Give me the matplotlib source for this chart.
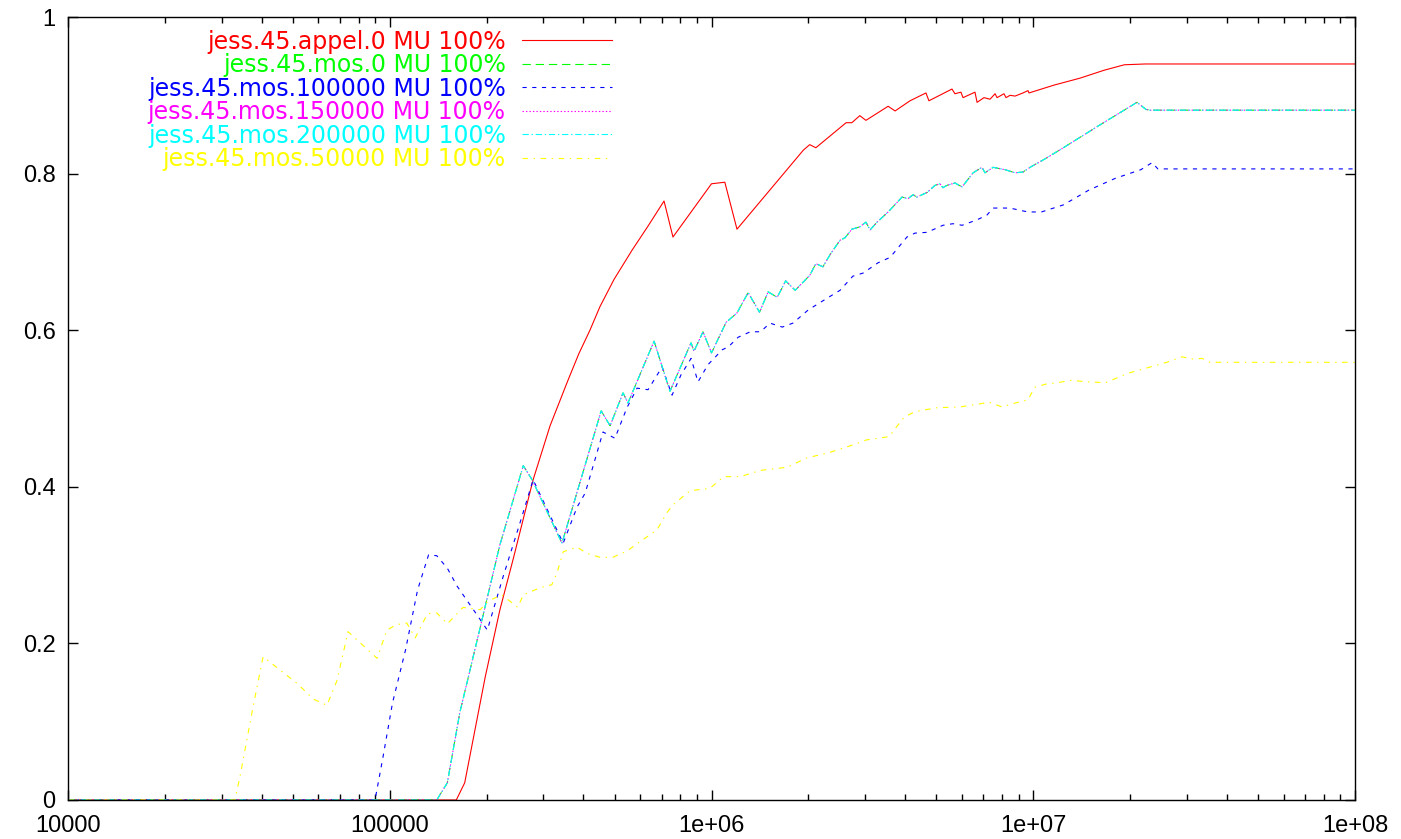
import matplotlib
matplotlib.use('Agg')
import matplotlib.pyplot as plt

plt.rcParams['font.family'] = ['Liberation Sans', 'DejaVu Sans']
plt.rcParams['lines.scale_dashes'] = False

# jess.45.appel.0
appel_x = [1e4, 1.61e5, 1.71e5, 1.98e5, 2.20e5, 2.42e5, 2.79e5, 3.15e5, 3.58e5, 3.87e5,
           4.19e5, 4.50e5, 4.98e5, 5.66e5, 6.35e5, 7.12e5, 7.59e5, 1.00e6, 1.10e6, 1.20e6,
           1.93e6, 2.02e6, 2.11e6, 2.62e6, 2.73e6, 2.89e6, 3.02e6, 3.54e6, 3.72e6, 4.14e6,
           4.64e6, 4.74e6, 5.59e6, 5.71e6, 5.96e6, 6.05e6, 6.59e6, 6.69e6, 7.03e6, 7.34e6,
           7.61e6, 7.72e6, 8.11e6, 8.23e6, 8.47e6, 8.78e6, 9.29e6, 9.63e6, 9.70e6, 1.16e7,
           1.40e7, 1.66e7, 1.92e7, 2.23e7, 1e8]
appel_y = [0, 0, 0.022, 0.157, 0.243, 0.308, 0.409, 0.478, 0.536, 0.570,
           0.600, 0.630, 0.665, 0.702, 0.733, 0.765, 0.719, 0.787, 0.789, 0.729,
           0.830, 0.837, 0.833, 0.865, 0.865, 0.874, 0.868, 0.886, 0.880, 0.893,
           0.903, 0.893, 0.908, 0.902, 0.904, 0.897, 0.904, 0.891, 0.897, 0.895,
           0.902, 0.897, 0.902, 0.897, 0.900, 0.899, 0.903, 0.906, 0.903, 0.913,
           0.922, 0.932, 0.939, 0.940, 0.940]

# jess.45.mos.0 / .150000 / .200000 (curves coincide)
mos_x = [1e4, 1.40e5, 1.51e5, 1.65e5, 2.20e5, 2.60e5, 2.77e5, 3.43e5, 4.54e5, 4.84e5,
         5.31e5, 5.50e5, 6.63e5, 7.43e5, 8.64e5, 8.82e5, 9.41e5, 1.00e6, 1.11e6, 1.20e6,
         1.30e6, 1.41e6, 1.50e6, 1.60e6, 1.70e6, 1.82e6, 2.02e6, 2.11e6, 2.22e6, 2.34e6,
         2.51e6, 2.60e6, 2.73e6, 2.89e6, 3.02e6, 3.11e6, 3.27e6, 3.54e6, 3.91e6, 4.08e6,
         4.23e6, 4.35e6, 4.68e6, 4.95e6, 5.13e6, 5.24e6, 5.39e6, 5.71e6, 6.01e6, 6.50e6,
         6.93e6, 7.08e6, 7.50e6, 8.17e6, 8.78e6, 9.29e6, 9.77e6, 1.09e7, 1.24e7, 1.58e7,
         2.10e7, 2.24e7, 2.31e7, 1e8]
mos_y = [0, 0, 0.022, 0.111, 0.326, 0.427, 0.409, 0.328, 0.497, 0.478,
         0.520, 0.507, 0.586, 0.522, 0.584, 0.573, 0.598, 0.571, 0.610, 0.622,
         0.648, 0.623, 0.649, 0.642, 0.663, 0.651, 0.670, 0.685, 0.681, 0.697,
         0.715, 0.718, 0.729, 0.732, 0.738, 0.728, 0.738, 0.751, 0.770, 0.768,
         0.773, 0.770, 0.776, 0.785, 0.787, 0.782, 0.785, 0.788, 0.783, 0.801,
         0.808, 0.801, 0.808, 0.805, 0.801, 0.802, 0.808, 0.819, 0.833, 0.860,
         0.891, 0.882, 0.881, 0.881]

# jess.45.mos.100000
mos100k_x = [1e4, 9.00e4, 9.53e4, 1.02e5, 1.12e5, 1.22e5, 1.32e5, 1.40e5, 1.51e5, 1.62e5,
             1.87e5, 2.01e5, 2.25e5, 2.54e5, 2.79e5, 3.46e5, 3.82e5, 4.05e5, 4.41e5, 4.60e5,
             5.01e5, 5.46e5, 5.87e5, 6.35e5, 7.02e5, 7.54e5, 8.04e5, 8.64e5, 9.08e5, 9.75e5,
             1.08e6, 1.13e6, 1.21e6, 1.32e6, 1.42e6, 1.52e6, 1.66e6, 1.79e6, 2.00e6, 2.29e6,
             2.51e6, 2.75e6, 2.96e6, 3.29e6, 3.59e6, 4.05e6, 4.29e6, 4.68e6, 5.24e6, 5.63e6,
             6.01e6, 6.69e6, 7.18e6, 7.50e6, 8.47e6, 8.90e6, 9.63e6, 1.06e7, 1.24e7, 1.49e7,
             1.80e7, 2.16e7, 2.34e7, 2.44e7, 1e8]
mos100k_y = [0, 0, 0.055, 0.124, 0.192, 0.268, 0.313, 0.312, 0.296, 0.273,
             0.236, 0.217, 0.285, 0.354, 0.409, 0.328, 0.374, 0.392, 0.444, 0.470,
             0.462, 0.501, 0.526, 0.524, 0.553, 0.517, 0.543, 0.564, 0.534, 0.556,
             0.575, 0.579, 0.591, 0.598, 0.598, 0.609, 0.604, 0.609, 0.626, 0.641,
             0.651, 0.669, 0.673, 0.686, 0.693, 0.719, 0.724, 0.725, 0.734, 0.736,
             0.734, 0.741, 0.747, 0.756, 0.756, 0.754, 0.751, 0.751, 0.760, 0.779,
             0.794, 0.805, 0.814, 0.806, 0.806]

# jess.45.mos.50000
mos50k_x = [1e4, 3.30e4, 3.42e4, 3.76e4, 4.04e4, 4.56e4, 5.15e4, 5.78e4, 6.38e4, 6.86e4,
            7.42e4, 8.08e4, 9.13e4, 9.80e4, 1.05e5, 1.13e5, 1.20e5, 1.31e5, 1.40e5, 1.51e5,
            1.69e5, 1.91e5, 2.02e5, 2.23e5, 2.50e5, 2.60e5, 2.93e5, 3.19e5, 3.31e5, 3.46e5,
            3.82e5, 4.10e5, 4.50e5, 4.94e5, 5.46e5, 6.00e5, 6.77e5, 7.27e5, 7.59e5, 8.58e5,
            9.41e5, 9.89e5, 1.09e6, 1.23e6, 1.42e6, 1.72e6, 1.98e6, 2.29e6, 2.64e6, 3.04e6,
            3.56e6, 3.97e6, 4.29e6, 5.02e6, 5.92e6, 6.83e6, 7.29e6, 8.00e6, 8.78e6, 9.63e6,
            1.01e7, 1.09e7, 1.19e7, 1.31e7, 1.47e7, 1.68e7, 1.97e7, 2.31e7, 2.60e7, 2.90e7,
            3.14e7, 3.35e7, 3.54e7, 1e8]
mos50k_y = [0, 0, 0.029, 0.119, 0.183, 0.166, 0.149, 0.129, 0.121, 0.153,
            0.215, 0.201, 0.181, 0.217, 0.224, 0.226, 0.207, 0.238, 0.239, 0.225,
            0.246, 0.243, 0.254, 0.262, 0.246, 0.262, 0.271, 0.275, 0.290, 0.317,
            0.323, 0.315, 0.310, 0.310, 0.318, 0.330, 0.345, 0.367, 0.377, 0.395,
            0.397, 0.398, 0.413, 0.413, 0.421, 0.425, 0.437, 0.443, 0.451, 0.460,
            0.464, 0.489, 0.496, 0.501, 0.502, 0.506, 0.508, 0.502, 0.507, 0.511,
            0.527, 0.531, 0.533, 0.536, 0.534, 0.533, 0.545, 0.553, 0.559, 0.566,
            0.563, 0.564, 0.559, 0.559]

labels = ['jess.45.appel.0 MU 100%', 'jess.45.mos.0 MU 100%', 'jess.45.mos.100000 MU 100%',
          'jess.45.mos.150000 MU 100%', 'jess.45.mos.200000 MU 100%', 'jess.45.mos.50000 MU 100%']
xticks = [1e4, 1e5, 1e6, 1e7, 1e8]
xticklabels = ['10000', '100000', '1e+06', '1e+07', '1e+08']
yticks = [0, 0.2, 0.4, 0.6, 0.8, 1]
yticklabels = ['0', '0.2', '0.4', '0.6', '0.8', '1']

series = [
    (appel_x, appel_y, '#ff0000', '-'),
    (mos_x, mos_y, '#00ff00', (0, (6, 3.5))),
    (mos100k_x, mos100k_y, '#0000ff', (0, (3, 4))),
    (mos_x, mos_y, '#ff00ff', (0, (1, 1.5))),
    (mos_x, mos_y, '#00ffff', (0, (4.5, 2, 1, 2))),
    (mos50k_x, mos50k_y, '#ffff00', (0, (4, 4, 1, 4))),
]

fig = plt.figure(figsize=(14.01, 8.39), dpi=100)
ax = fig.add_axes([68 / 1401, 39 / 839, 1287 / 1401, 783 / 839])

for (xs, ys, color, ls), label in zip(series, labels):
    ax.plot(xs, ys, color=color, linestyle=ls, linewidth=0.8, label=label)

ax.set_xscale('log')
ax.set_xlim(1e4, 1e8)
ax.set_ylim(0, 1)
ax.set_xticks(xticks)
ax.set_xticklabels(xticklabels)
ax.set_yticks(yticks)
ax.set_yticklabels(yticklabels)
ax.tick_params(which='both', direction='in', top=True, right=True, labelsize=17, width=1)
ax.tick_params(which='major', length=7)
ax.tick_params(which='minor', length=4)
ax.tick_params(axis='x', pad=11)
ax.tick_params(axis='y', pad=9)
for sp in ax.spines.values():
    sp.set_linewidth(1)

leg = ax.legend(loc='upper right', bbox_to_anchor=(0.4227, 0.984), frameon=False,
                markerfirst=False, labelcolor='linecolor', handlelength=3.8,
                handletextpad=0.7, labelspacing=-0.02, borderpad=0, borderaxespad=0,
                prop={'family': 'DejaVu Sans', 'size': 17})

fig.savefig('out.png', dpi=100)
plt.close(fig)
